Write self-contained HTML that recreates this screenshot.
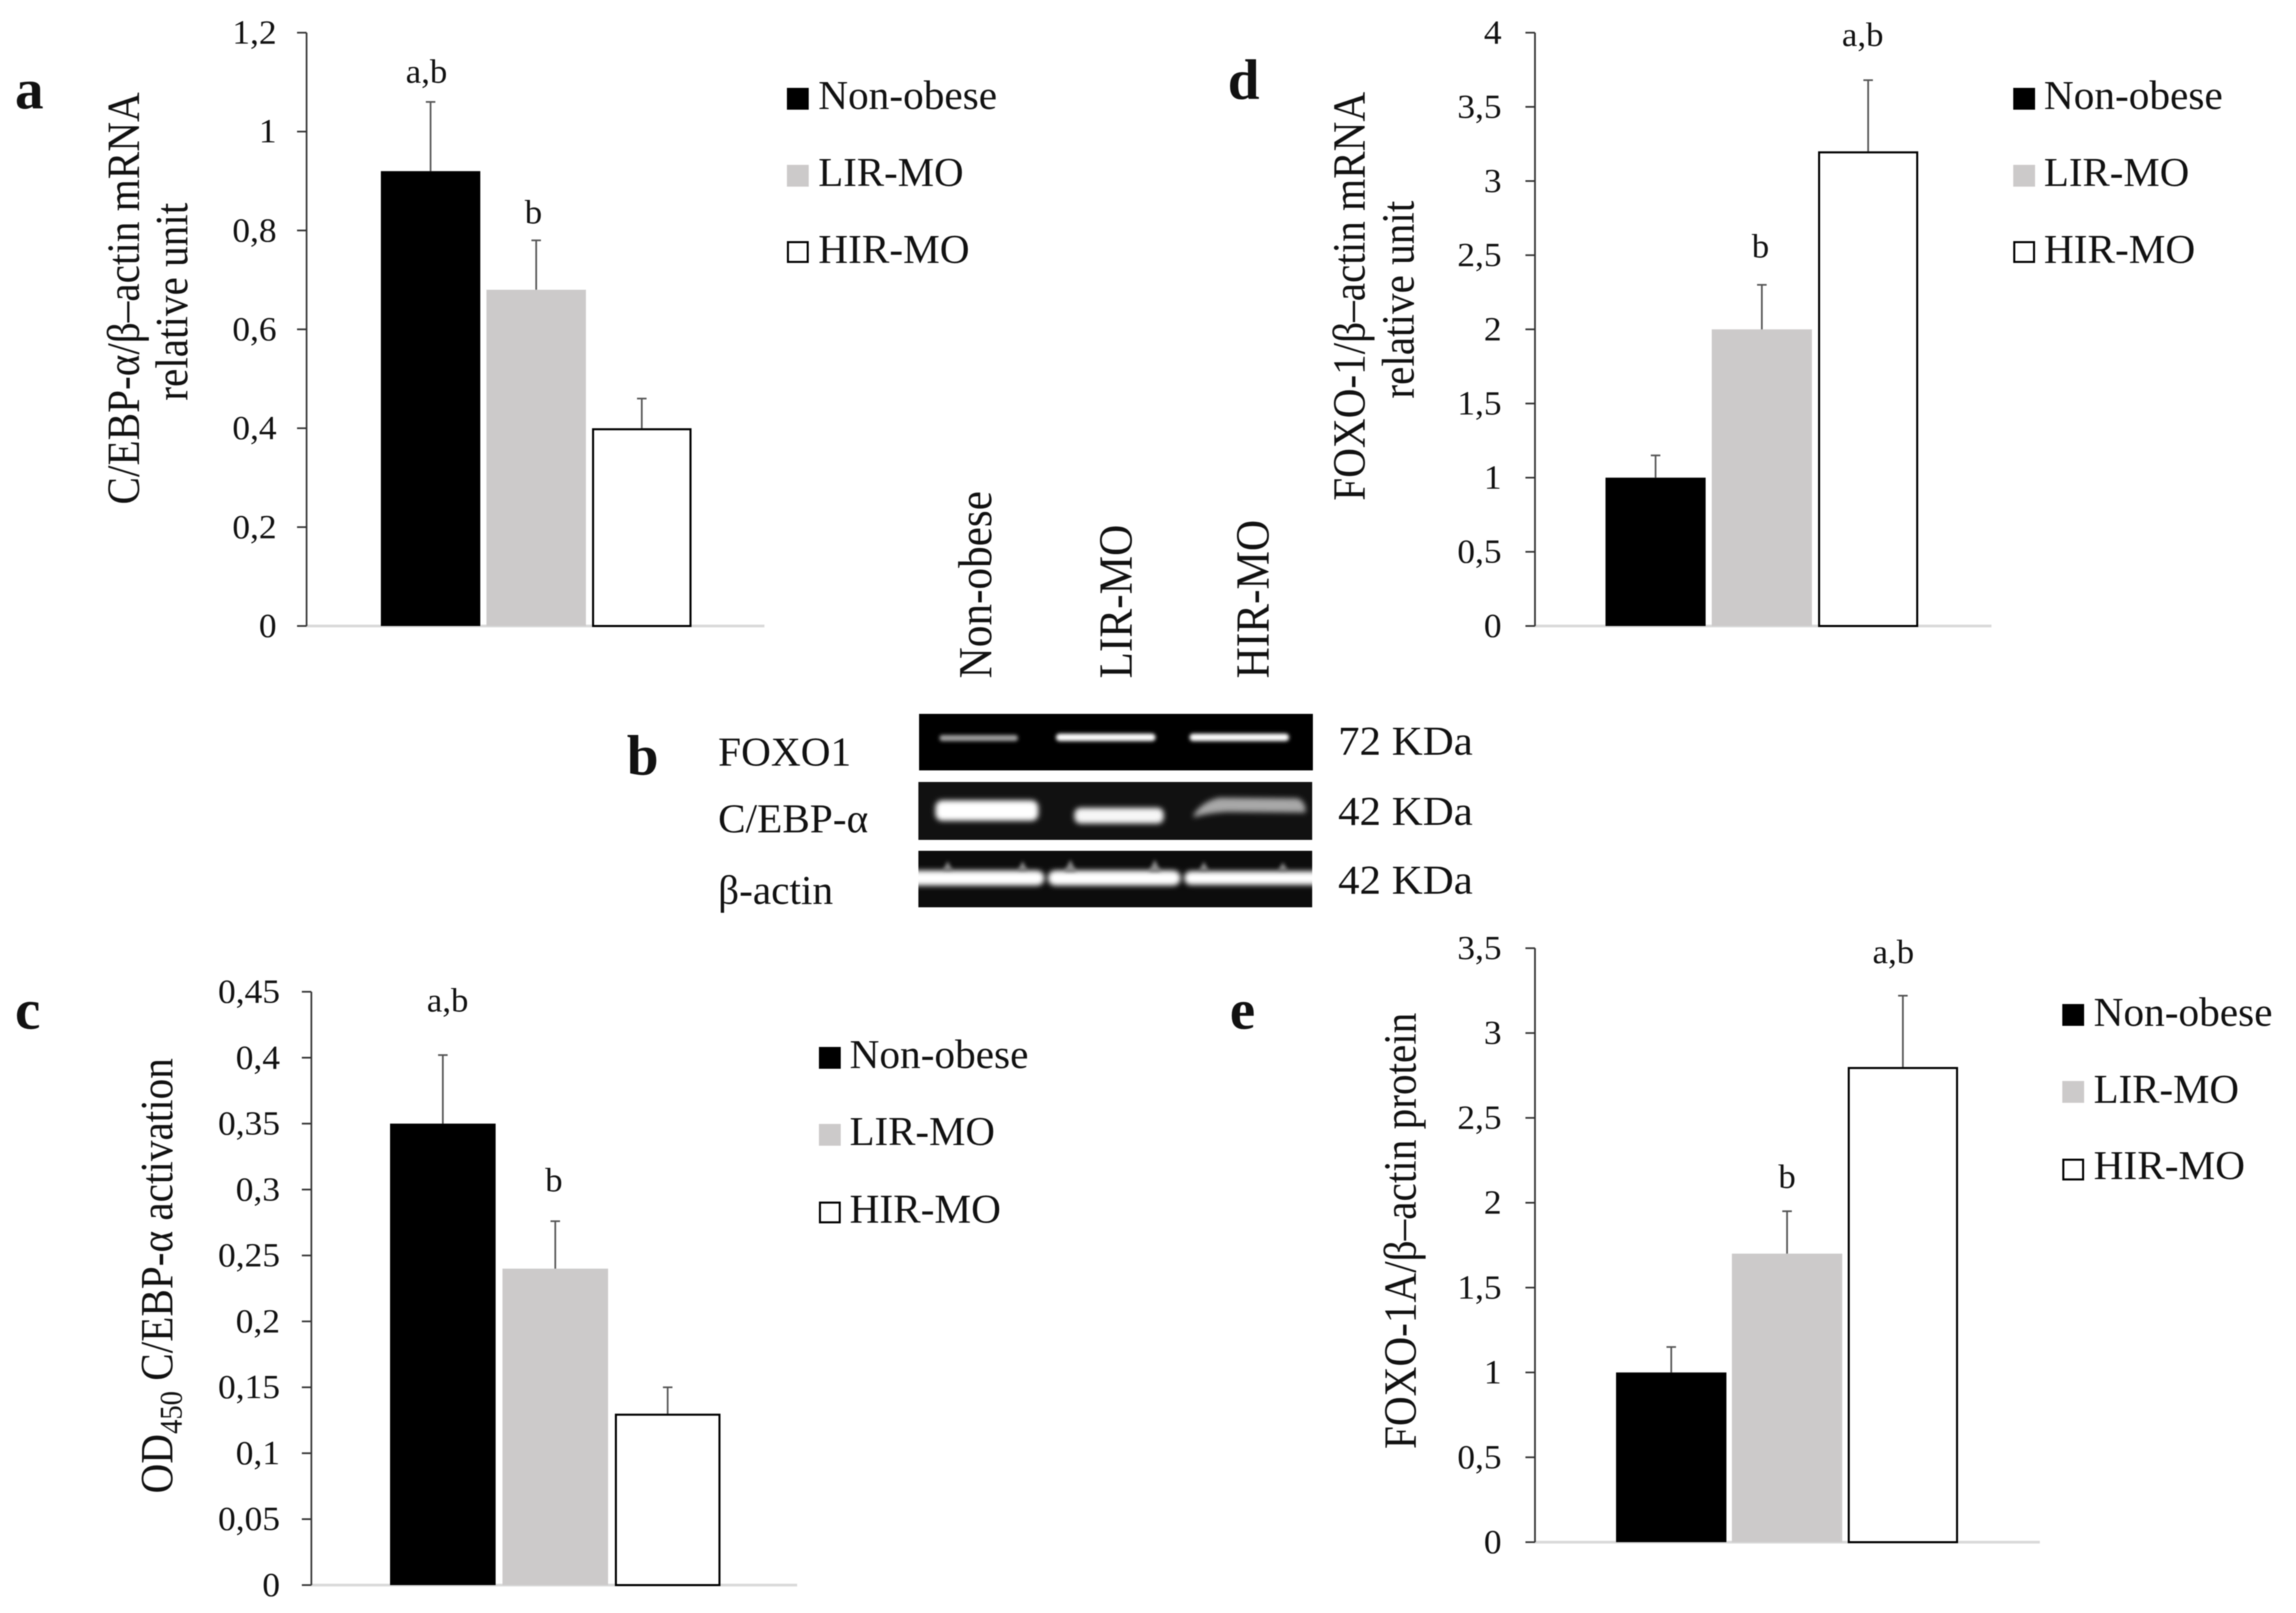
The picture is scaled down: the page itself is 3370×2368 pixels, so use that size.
<!DOCTYPE html>
<html lang="en">
<head>
<meta charset="utf-8">
<title>C/EBP-α and FOXO-1 expression figure</title>
<style>
html,body{margin:0;padding:0;background:#fff;width:3370px;height:2368px;overflow:hidden}
#figure{display:block;filter:blur(0.9px);font-family:"Liberation Serif","Noto Serif CJK SC",serif;fill:#111}
</style>
</head>
<body>
<svg id="figure" xmlns="http://www.w3.org/2000/svg" width="3370" height="2368" viewBox="0 0 3370 2368">
<defs>
<filter id="bandBlur" x="-20%" y="-200%" width="140%" height="500%"><feGaussianBlur stdDeviation="2.6"/></filter>
<filter id="softBlur" x="-20%" y="-200%" width="140%" height="500%"><feGaussianBlur stdDeviation="4"/></filter>
<clipPath id="blotClip2"><rect x="1348" y="1148" width="578" height="85"/></clipPath>
<clipPath id="blotClip3"><rect x="1348" y="1249" width="578" height="83"/></clipPath>
</defs>
<rect width="3370" height="2368" fill="#fff"/>

<!-- panel letters -->
<text x="22" y="159" font-size="84" font-weight="bold">a</text>
<text x="920" y="1137" font-size="84" font-weight="bold">b</text>
<text x="22" y="1510" font-size="84" font-weight="bold">c</text>
<text x="1802" y="145" font-size="84" font-weight="bold">d</text>
<text x="1805" y="1510" font-size="84" font-weight="bold">e</text>

<!-- y-axis titles -->
<text text-anchor="middle" font-size="60.5" transform="translate(204,438) rotate(-90) scale(1,1.12)">C/EBP-α/β–actin mRNA</text>
<text text-anchor="middle" font-size="60.5" transform="translate(275,443) rotate(-90) scale(1,1.12)">relative unit</text>
<text text-anchor="middle" font-size="60.5" transform="translate(2003,435) rotate(-90) scale(1,1.12)">FOXO-1/β–actin mRNA</text>
<text text-anchor="middle" font-size="60.5" transform="translate(2075,440) rotate(-90) scale(1,1.12)">relative unit</text>
<text text-anchor="middle" font-size="60.5" transform="translate(253,1873) rotate(-90) scale(1,1.12)">OD<tspan dy="12" font-size="42">450</tspan><tspan dy="-12"> C/EBP-α activation</tspan></text>
<text text-anchor="middle" font-size="60.5" transform="translate(2078,1807) rotate(-90) scale(1,1.12)">FOXO-1A/β–actin protein</text>

<!-- legends -->
<g font-size="60">
<rect x="1155" y="129" width="32" height="32" fill="#000"/>
<text transform="translate(1201,160) scale(1.01,1)">Non-obese</text>
<rect x="1155" y="242" width="32" height="32" fill="#cccaca"/>
<text transform="translate(1201,273)">LIR-MO</text>
<rect x="1156.5" y="355.5" width="29" height="29" fill="#fff" stroke="#000" stroke-width="3"/>
<text transform="translate(1201,386) scale(1.01,1)">HIR-MO</text>
</g>
<g font-size="60">
<rect x="2955" y="129" width="32" height="32" fill="#000"/>
<text transform="translate(3000,160) scale(1.01,1)">Non-obese</text>
<rect x="2955" y="242" width="32" height="32" fill="#cccaca"/>
<text transform="translate(3000,273)">LIR-MO</text>
<rect x="2956.5" y="355.5" width="29" height="29" fill="#fff" stroke="#000" stroke-width="3"/>
<text transform="translate(3000,386) scale(1.01,1)">HIR-MO</text>
</g>
<g font-size="60">
<rect x="1202" y="1537" width="32" height="32" fill="#000"/>
<text transform="translate(1247,1568) scale(1.01,1)">Non-obese</text>
<rect x="1202" y="1650" width="32" height="32" fill="#cccaca"/>
<text transform="translate(1247,1681)">LIR-MO</text>
<rect x="1203.5" y="1765.5" width="29" height="29" fill="#fff" stroke="#000" stroke-width="3"/>
<text transform="translate(1247,1795) scale(1.01,1)">HIR-MO</text>
</g>
<g font-size="60">
<rect x="3027" y="1474" width="32" height="32" fill="#000"/>
<text transform="translate(3073,1506) scale(1.01,1)">Non-obese</text>
<rect x="3027" y="1587" width="32" height="32" fill="#cccaca"/>
<text transform="translate(3073,1619)">LIR-MO</text>
<rect x="3028.5" y="1702.5" width="29" height="29" fill="#fff" stroke="#000" stroke-width="3"/>
<text transform="translate(3073,1731) scale(1.01,1)">HIR-MO</text>
</g>

<!-- western blot -->
<g>
<text font-size="63.5" transform="translate(1455,996) rotate(-90) scale(1,1.1)">Non-obese</text>
<text font-size="63.5" transform="translate(1661,996) rotate(-90) scale(1,1.1)">LIR-MO</text>
<text font-size="63.5" transform="translate(1862,996) rotate(-90) scale(1,1.1)">HIR-MO</text>

<text font-size="60" transform="translate(1054,1124) scale(1.01,1)">FOXO1</text>
<text font-size="60" transform="translate(1054,1222) scale(1.01,1)">C/EBP-α</text>
<text font-size="60" transform="translate(1054,1327) scale(1.01,1)">β-actin</text>
<text font-size="60" transform="translate(1964,1108) scale(1.05,1)">72 KDa</text>
<text font-size="60" transform="translate(1964,1211) scale(1.05,1)">42 KDa</text>
<text font-size="60" transform="translate(1964,1312) scale(1.05,1)">42 KDa</text>

<rect x="1349" y="1048" width="578" height="83" fill="#000"/>
<rect x="1379" y="1079" width="115" height="9" rx="4" fill="#a0a0a0" filter="url(#bandBlur)"/>
<rect x="1550" y="1077" width="146" height="11" rx="5" fill="#fff" filter="url(#bandBlur)"/>
<rect x="1746" y="1077" width="146" height="11" rx="5" fill="#fff" filter="url(#bandBlur)"/>

<rect x="1348" y="1148" width="578" height="85" fill="#111"/>
<g clip-path="url(#blotClip2)">
<rect x="1373" y="1175" width="151" height="30" rx="10" fill="#fff" filter="url(#softBlur)"/>
<rect x="1577" y="1186" width="131" height="23" rx="9" fill="#f6f6f6" filter="url(#softBlur)"/>
<path d="M1752 1196 Q1765 1176 1790 1171 L1905 1172 Q1918 1178 1916 1193 L1800 1192 Q1770 1194 1752 1200Z" fill="#a8a8a8" filter="url(#softBlur)"/>
</g>

<rect x="1348" y="1249" width="578" height="83" fill="#0c0c0c"/>
<g clip-path="url(#blotClip3)">
<rect x="1320" y="1278" width="213" height="22" rx="11" fill="#fff" filter="url(#softBlur)"/>
<rect x="1538" y="1278" width="195" height="22" rx="11" fill="#fff" filter="url(#softBlur)"/>
<rect x="1738" y="1279" width="205" height="20" rx="10" fill="#fff" filter="url(#softBlur)"/>
<path d="M1384 1278 L1391 1264 L1398 1278Z M1494 1278 L1501 1264 L1508 1278Z M1562 1280 L1571 1262 L1580 1280Z M1686 1280 L1695 1262 L1704 1280Z M1760 1278 L1767 1265 L1774 1278Z M1876 1278 L1883 1266 L1890 1278Z" fill="#8a8a8a" filter="url(#bandBlur)"/>
</g>
</g>

<g id="charts"></g>
</svg>
<script>
// ---------- chart data ----------
const categories = ['non-obese', 'lir-mo', 'hir-mo'];
const sigLabelsA = ['a,b', 'b', ''];
const sigLabelsC = ['a,b', 'b', ''];
const sigLabelsD = ['', 'b', 'a,b'];
const sigLabelsE = ['', 'b', 'a,b'];

const valuesA = [0.92, 0.68, 0.40];
const errorsA = [0.14, 0.10, 0.06];
const ticksA = [0, 0.2, 0.4, 0.6, 0.8, 1, 1.2];
const tickLabelsA = ['0', '0,2', '0,4', '0,6', '0,8', '1', '1,2'];

const valuesC = [0.35, 0.24, 0.13];
const errorsC = [0.052, 0.036, 0.02];
const ticksC = [0, 0.05, 0.1, 0.15, 0.2, 0.25, 0.3, 0.35, 0.4, 0.45];
const tickLabelsC = ['0', '0,05', '0,1', '0,15', '0,2', '0,25', '0,3', '0,35', '0,4', '0,45'];

const valuesD = [1, 2, 3.2];
const errorsD = [0.15, 0.3, 0.48];
const ticksD = [0, 0.5, 1, 1.5, 2, 2.5, 3, 3.5, 4];
const tickLabelsD = ['0', '0,5', '1', '1,5', '2', '2,5', '3', '3,5', '4'];

const valuesE = [1, 1.7, 2.8];
const errorsE = [0.15, 0.25, 0.42];
const ticksE = [0, 0.5, 1, 1.5, 2, 2.5, 3, 3.5];
const tickLabelsE = ['0', '0,5', '1', '1,5', '2', '2,5', '3', '3,5'];

// ---------- layout ----------
const NS = 'http://www.w3.org/2000/svg';
const root = document.getElementById('charts');
const barFills = ['#000', '#cccaca', '#fff'];

function make(parent, tag, attrs) {
  const el = document.createElementNS(NS, tag);
  for (const k in attrs) el.setAttribute(k, attrs[k]);
  parent.appendChild(el);
  return el;
}

function drawPanel(id, layout, values, errors, ticks, tickLabels, sigLabels) {
  const g = make(root, 'g', {});
  
  

  const maxTick = ticks[ticks.length - 1];
  const yScale = v => layout.bottom - (v / maxTick) * (layout.bottom - layout.top);
  const xScale = i => layout.firstCenter + layout.pitch * i;

  const xAxis = make(g, 'line', {x1: layout.axisX, x2: layout.axisEnd, y1: layout.bottom, y2: layout.bottom, stroke: '#d9d9d9', 'stroke-width': 4});
  
  

  categories.forEach((c, i) => {
    const top = yScale(values[i]);
    const errTop = yScale(values[i] + errors[i]);
    const cx = xScale(i);

    const stem = make(g, 'line', {x1: cx, x2: cx, y1: top, y2: errTop, stroke: '#555', 'stroke-width': 2.5});
    
    

    const cap = make(g, 'line', {x1: cx - 7, x2: cx + 7, y1: errTop, y2: errTop, stroke: '#555', 'stroke-width': 2.5});
    
    

    const isWhite = i === 2;
    const inset = isWhite ? 1.5 : 0;
    const bar = make(g, 'rect', {
      x: cx - layout.barWidth / 2 + inset,
      y: top + inset,
      width: layout.barWidth - 2 * inset,
      height: layout.bottom - top - inset,
      fill: barFills[i],
      stroke: isWhite ? '#000' : 'none',
      'stroke-width': isWhite ? 3 : 0
    });
    
    

    if (sigLabels[i]) {
      const sig = make(g, 'text', {
        'text-anchor': 'middle',
        'font-size': 50,
        transform: 'translate(' + (cx + layout.sigDx[i]) + ',' + (errTop - layout.sigGap[i] + 16) + ') scale(1.02,1)'
      });
      sig.textContent = sigLabels[i];
      
      
    }
  });

  const yAxis = make(g, 'line', {x1: layout.axisX, x2: layout.axisX, y1: layout.top, y2: layout.bottom, stroke: '#333', 'stroke-width': 2.5});
  
  

  ticks.forEach((t, i) => {
    const y = yScale(t);
    const tick = make(g, 'line', {x1: layout.axisX - 14, x2: layout.axisX, y1: y, y2: y, stroke: '#333', 'stroke-width': 2.5});
    
    

    const label = make(g, 'text', {
      'text-anchor': 'end',
      'font-size': 50,
      transform: 'translate(' + layout.tickRight + ',' + (y + 16) + ') scale(1.04,1)'
    });
    label.textContent = tickLabels[i];
    
    
  });
}

drawPanel('a', {axisX: 450, axisEnd: 1122, top: 48, bottom: 919, firstCenter: 632, pitch: 155, barWidth: 146, tickRight: 406, sigDx: [-6, -4, 0], sigGap: [44, 41, 0]},
  valuesA, errorsA, ticksA, tickLabelsA, sigLabelsA);
drawPanel('c', {axisX: 457, axisEnd: 1170, top: 1456, bottom: 2327, firstCenter: 650, pitch: 165, barWidth: 155, tickRight: 411, sigDx: [7, -2, 0], sigGap: [80, 60, 0]},
  valuesC, errorsC, ticksC, tickLabelsC, sigLabelsC);
drawPanel('d', {axisX: 2253, axisEnd: 2923, top: 48, bottom: 919, firstCenter: 2430, pitch: 156, barWidth: 147, tickRight: 2204, sigDx: [0, -2, -8], sigGap: [0, 56, 66]},
  valuesD, errorsD, ticksD, tickLabelsD, sigLabelsD);
drawPanel('e', {axisX: 2253, axisEnd: 2994, top: 1392, bottom: 2264, firstCenter: 2453, pitch: 170, barWidth: 162, tickRight: 2204, sigDx: [0, 0, -14], sigGap: [0, 50, 64]},
  valuesE, errorsE, ticksE, tickLabelsE, sigLabelsE);
</script>
</body>
</html>
